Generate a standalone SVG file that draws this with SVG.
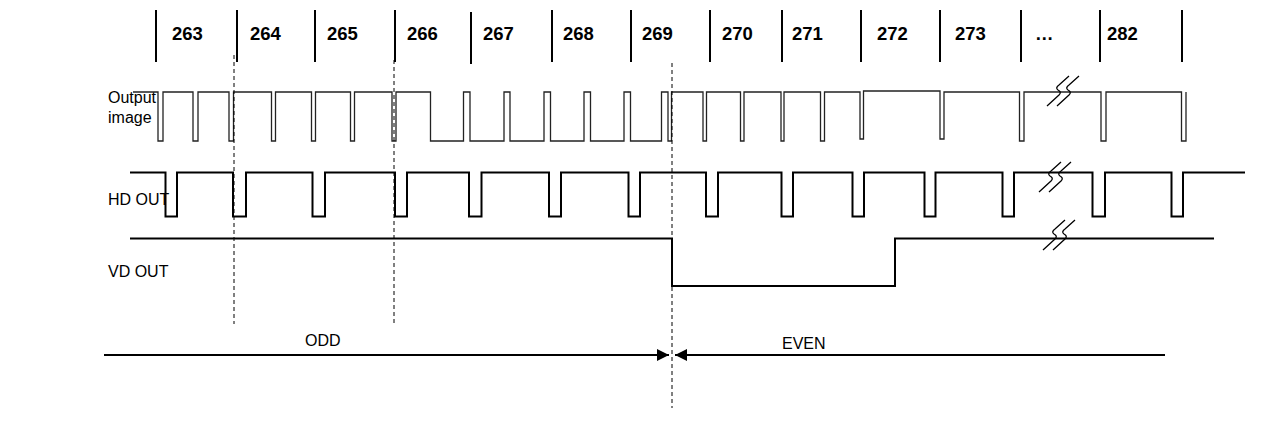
<svg xmlns="http://www.w3.org/2000/svg" width="1264" height="430" viewBox="0 0 1264 430">
<style>
.lbl{font-family:"Liberation Sans",Arial,sans-serif;font-size:16px;fill:#000}
.num{font-family:"Liberation Sans",Arial,sans-serif;font-size:18.5px;font-weight:bold;fill:#000}
.tick{stroke:#000;stroke-width:2}
.wave{fill:none;stroke:#000;stroke-width:2;stroke-linejoin:miter}
.img{fill:none;stroke:#222;stroke-width:1.3}
.dash{stroke:#000;stroke-width:1;stroke-dasharray:4 3}
.brk{fill:none;stroke:#000;stroke-width:1.3}
.arr{stroke:#000;stroke-width:2}
</style>
<defs>
<marker id="ah" viewBox="0 0 10 10" refX="10" refY="5" markerWidth="6" markerHeight="6" orient="auto-start-reverse" markerUnits="strokeWidth">
<path d="M0,0 L10,5 L0,10 z" fill="#000"/>
</marker>
<g id="brkshape">
<path class="brk" d="M0,0 L12,-11 Q15,-14 11,-16 Q8,-18 12,-21 L22,-30"/>
<path class="brk" d="M10,0 L22,-11 Q25,-14 21,-16 Q18,-18 22,-21 L32,-30"/>
</g>
</defs>
<rect width="1264" height="430" fill="#fff"/>
<g id="header">
<line class="tick" x1="156" y1="10" x2="156" y2="62"/>
<line class="tick" x1="237" y1="10" x2="237" y2="62"/>
<line class="tick" x1="315" y1="10" x2="315" y2="62"/>
<line class="tick" x1="395" y1="10" x2="395" y2="62"/>
<line class="tick" x1="471" y1="12" x2="471" y2="64"/>
<line class="tick" x1="552" y1="10" x2="552" y2="62"/>
<line class="tick" x1="631" y1="10" x2="631" y2="62"/>
<line class="tick" x1="710" y1="10" x2="710" y2="62"/>
<line class="tick" x1="782" y1="10" x2="782" y2="62"/>
<line class="tick" x1="861" y1="10" x2="861" y2="62"/>
<line class="tick" x1="940" y1="10" x2="940" y2="62"/>
<line class="tick" x1="1021" y1="10" x2="1021" y2="62"/>
<line class="tick" x1="1100" y1="10" x2="1100" y2="62"/>
<line class="tick" x1="1182" y1="10" x2="1182" y2="62"/>
<text class="num" x="172" y="40">263</text>
<text class="num" x="250" y="40">264</text>
<text class="num" x="327" y="40">265</text>
<text class="num" x="407" y="40">266</text>
<text class="num" x="483" y="40">267</text>
<text class="num" x="563" y="40">268</text>
<text class="num" x="642" y="40">269</text>
<text class="num" x="722" y="40">270</text>
<text class="num" x="792" y="40">271</text>
<text class="num" x="877" y="40">272</text>
<text class="num" x="955" y="40">273</text>
<text class="num" x="1035" y="40">…</text>
<text class="num" x="1107" y="40">282</text>
</g>
<g id="labels">
<text class="lbl" x="108" y="103">Output</text>
<text class="lbl" x="108" y="123">image</text>
<text class="lbl" x="108" y="205">HD OUT</text>
<text class="lbl" x="108" y="277">VD OUT</text>
</g>
<g id="output-image">
<path class="img" d="M133,92 H158 V141 H163 V92 H193 V141 H198 V92 H229 V141 H233.5 V92 H271.5 V141 H275.5 V92 H311.5 V141 H315.5 V92 H350.5 V141 H354.5 V92 H392 V141 H396 V92 H430.5 V141 H463.5 V92 H470 V141 H504 V92 H510 V141 H544 V92 H550.5 V141 H584 V92 H590.5 V141 H624 V92 H630.5 V141 H661.5 V92 H668 V141 H671.5 V92 H703 V141 H706.5 V92 H740.5 V141 H744 V92 H781 V141 H784 V92 H820.5 V141 H824.5 V92 H860 V139 H863.5 V91 H940 V139 H944 V92 H1019.5 V141 H1024 V92 H1101 V141 H1106 V92 H1181.5 V141 H1186 V92"/>
<use href="#brkshape" x="1047" y="106"/>
</g>
<g id="hd-out">
<path class="wave" d="M130,172.5 H165.5 V216.5 H177 V172.5 H233 V216.5 H246 V172.5 H312.5 V216.5 H325 V172.5 H395 V216.5 H407 V172.5 H469 V216.5 H481.5 V172.5 H549 V216.5 H561 V172.5 H628.5 V216.5 H640 V172.5 H706 V216.5 H718 V172.5 H781.5 V216.5 H793 V172.5 H852.5 V216.5 H864 V172.5 H924.5 V216.5 H935.5 V172.5 H1002.5 V216.5 H1014 V172.5 H1092.5 V216.5 H1105 V172.5 H1171.5 V216.5 H1183 V172.5 H1245"/>
<use href="#brkshape" x="1039" y="192"/>
</g>
<g id="vd-out">
<path class="wave" d="M130,238.5 H672 V286 H895 V238.5 H1214"/>
<use href="#brkshape" x="1043" y="250"/>
</g>
<g id="markers">
<line class="dash" x1="234" y1="55" x2="234" y2="324"/>
<line class="dash" x1="394" y1="60" x2="394" y2="326"/>
<line class="dash" x1="672" y1="63" x2="672" y2="408"/>
</g>
<g id="connectors">
<line class="arr" x1="104" y1="355" x2="669" y2="355" marker-end="url(#ah)"/>
<line class="arr" x1="1165" y1="355" x2="675" y2="355" marker-end="url(#ah)"/>
</g>
<g id="fields">
<text class="lbl" x="305" y="346">ODD</text>
<text class="lbl" x="782" y="349">EVEN</text>
</g>
</svg>
